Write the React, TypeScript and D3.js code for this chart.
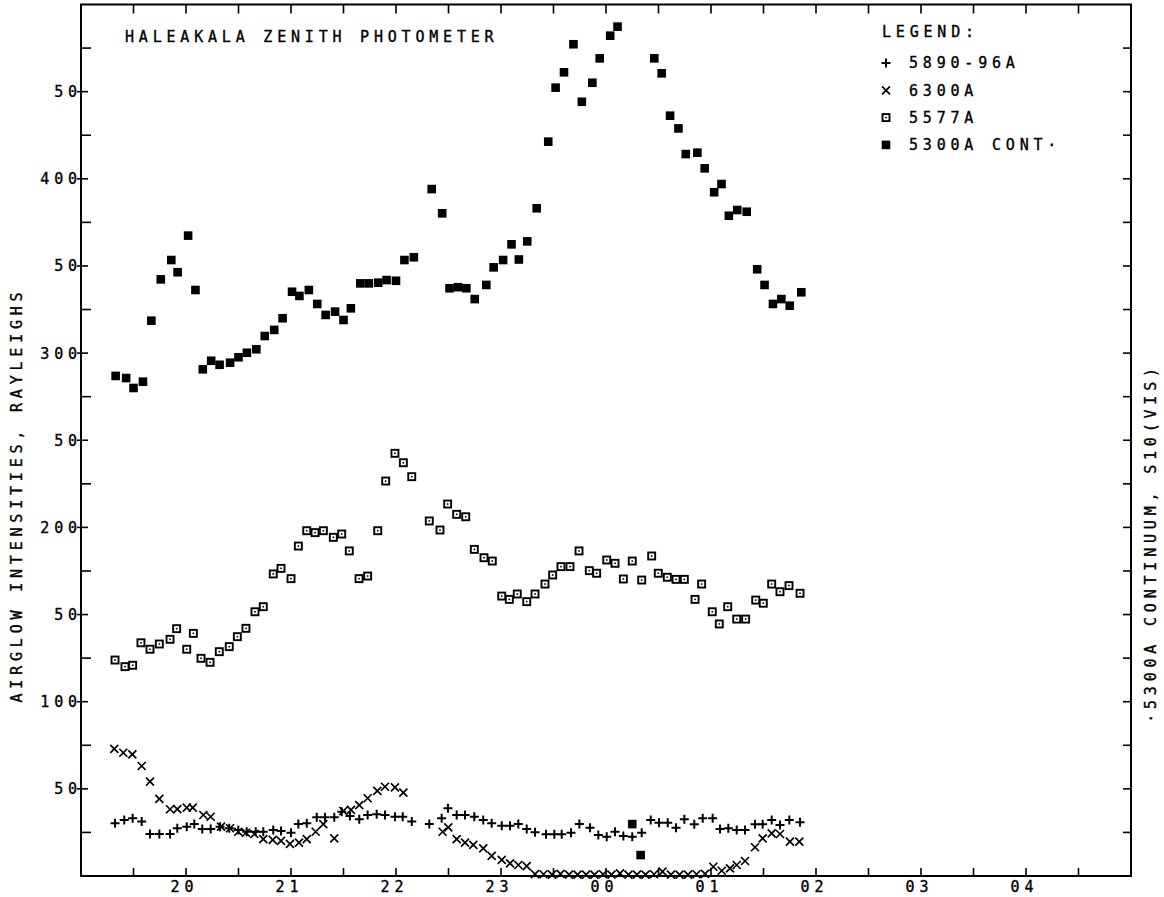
import React from "react";
import * as d3 from "d3";

// ---- data (hours after midnight of first day: 24 = 00h) ----
const naTimes = [19.324,19.412,19.492,19.578,19.657,19.746,19.848,19.917,20.007,20.079,20.155,20.235,20.324,20.412,20.498,20.578,20.664,20.736,20.831,20.905,21.0,21.07,21.15,21.245,21.324,21.412,21.483,21.562,21.65,21.73,21.816,21.895,21.99,22.064,22.15,22.317,22.435,22.495,22.578,22.657,22.746,22.831,22.911,23.007,23.086,23.165,23.245,23.324,23.429,23.508,23.578,23.667,23.746,23.848,23.927,24.007,24.086,24.165,24.25,24.34,24.426,24.505,24.588,24.667,24.746,24.841,24.921,25.016,25.086,25.165,25.245,25.324,25.419,25.492,25.578,25.657,25.746,25.848];
const naValues = [30.2,32.1,33.1,31.2,24.1,24.1,24.1,27.4,28.3,29.8,27.0,27.0,28.3,27.4,26.4,25.4,25.4,25.4,26.4,25.8,24.8,29.8,30.2,33.7,33.7,33.7,36.9,34.4,32.5,35.0,35.4,35.0,34.0,34.0,31.2,29.8,33.1,38.8,35.0,35.0,34.0,32.1,30.2,28.9,28.9,29.8,27.0,25.1,23.9,23.9,23.9,24.8,29.8,27.7,23.5,22.5,25.4,22.9,22.5,24.8,32.1,30.6,30.6,27.7,32.5,29.7,33.1,33.1,27.0,27.4,26.4,26.4,29.7,29.7,32.1,29.3,32.1,30.8];

const oiRedTimes = [19.317,19.403,19.489,19.578,19.657,19.746,19.848,19.917,20.007,20.064,20.165,20.235,20.333,20.419,20.498,20.571,20.651,20.736,20.826,20.905,20.99,21.076,21.15,21.235,21.308,21.412,21.498,21.571,21.65,21.73,21.822,21.895,21.99,22.07,22.444,22.498,22.578,22.657,22.736,22.831,22.911,23.007,23.086,23.165,23.245,23.324,23.405,23.486,23.567,23.648,23.729,23.81,23.89,23.971,24.052,24.133,24.214,24.295,24.376,24.457,24.538,24.619,24.7,24.781,24.862,24.943,25.022,25.102,25.181,25.245,25.324,25.419,25.492,25.578,25.657,25.752,25.841];
const oiRedValues = [72.9,70.7,69.8,63.1,54.1,44.2,38.3,38.4,39.2,39.2,35.0,34.0,28.3,27.4,25.4,24.8,24.1,21.1,20.7,20.1,18.4,19.1,21.1,25.4,29.8,21.6,37.3,37.9,40.7,44.6,48.8,51.2,50.9,47.8,25.4,27.9,21.1,19.1,17.8,15.9,11.5,9.2,7.3,6.3,5.7,1.1,1.0,0.8,1.2,0.8,0.8,0.8,0.8,1.0,0.8,1.5,0.8,0.8,0.8,1.0,2.5,0.8,0.8,0.8,1.0,1.2,5.3,3.0,4.4,6.3,8.6,16.5,21.6,24.5,24.1,19.7,19.7];

const oiGreenTimes = [19.324,19.419,19.492,19.571,19.657,19.746,19.848,19.911,20.007,20.07,20.143,20.229,20.317,20.412,20.489,20.571,20.657,20.736,20.831,20.905,21.0,21.07,21.15,21.229,21.308,21.403,21.483,21.555,21.648,21.73,21.826,21.902,21.99,22.07,22.15,22.317,22.419,22.492,22.578,22.664,22.746,22.838,22.917,23.007,23.079,23.155,23.245,23.324,23.419,23.492,23.571,23.657,23.743,23.841,23.911,24.007,24.086,24.165,24.25,24.34,24.435,24.498,24.584,24.667,24.746,24.848,24.911,25.012,25.079,25.159,25.245,25.33,25.426,25.498,25.578,25.657,25.743,25.848];
const oiGreenValues = [123.9,120.1,120.9,133.8,130.1,133.1,135.8,141.9,130.1,139.2,124.9,122.6,128.7,131.6,137.3,142.1,151.6,154.5,173.3,176.5,170.6,189.3,198.1,197.0,198.1,194.3,196.2,186.5,170.6,172.1,198.1,226.6,242.5,237.1,229.1,203.7,198.5,213.4,207.5,206.1,187.4,182.6,180.7,160.6,158.7,161.8,157.4,161.8,167.5,172.7,177.5,177.5,186.5,175.2,173.7,181.3,179.4,170.4,180.7,169.8,183.6,173.7,171.4,170.2,170.2,158.7,167.5,151.6,144.6,154.5,147.4,147.4,158.3,156.5,167.5,163.1,166.6,162.2];

const contTimes = [19.33,19.43,19.5,19.59,19.67,19.76,19.86,19.92,20.02,20.09,20.16,20.24,20.32,20.42,20.5,20.58,20.67,20.75,20.84,20.92,21.01,21.08,21.17,21.25,21.33,21.42,21.5,21.57,21.66,21.74,21.83,21.91,22.0,22.08,22.17,22.34,22.44,22.51,22.59,22.67,22.75,22.86,22.93,23.02,23.1,23.17,23.25,23.34,23.45,23.52,23.6,23.69,23.77,23.87,23.94,24.04,24.11,24.25,24.33,24.46,24.53,24.61,24.69,24.76,24.87,24.94,25.03,25.1,25.17,25.25,25.34,25.44,25.51,25.59,25.67,25.75,25.86];
const contValues = [286.9,285.7,280.0,283.6,318.6,342.3,353.4,346.4,367.4,336.2,290.7,295.6,293.3,294.5,297.6,300.2,302.2,309.8,313.3,320.0,335.2,332.8,336.2,328.2,321.9,323.8,319.0,325.7,340.0,340.0,340.4,341.9,341.5,353.4,355.0,394.1,380.2,337.2,337.8,337.2,331.0,339.1,349.2,353.4,362.4,353.7,364.1,383.1,421.3,452.3,461.1,477.2,444.2,455.1,469.1,482.1,487.3,29.8,12.0,469.1,460.5,436.2,428.9,414.2,415.0,406.0,392.3,397.0,378.8,382.1,381.1,348.1,339.1,328.2,331.0,327.2,334.9];

const yTickValues = [50, 100, 150, 200, 250, 300, 350, 400, 450];
const yTickLabels = ["50", "100", "50", "200", "50", "300", "50", "400", "50"];
const xTickHours = [20, 21, 22, 23, 24, 25, 26, 27, 28];
const xTickLabels = ["20", "21", "22", "23", "00", "01", "02", "03", "04"];

const titleText = "HALEAKALA ZENITH PHOTOMETER";
const leftTitle = "AIRGLOW INTENSITIES, RAYLEIGHS";
const rightTitle = "·5300A CONTINUUM, S10(VIS)";
const legendTitle = "LEGEND:";
const legendLabels = ["5890-96A", "6300A", "5577A", "5300A CONT·"];

const W = 1164, H = 897;
const FONT = "'DejaVu Sans Mono', 'Liberation Mono', monospace";
const LS = 4.8;

function Marker({ kind }: { kind: string }) {
  if (kind === "plus") return <path d="M-4.5,0H4.5M0,-4.5V4.5" stroke="#000" strokeWidth={2} fill="none" />;
  if (kind === "cross") return <path d="M-4,-4L4,4M-4,4L4,-4" stroke="#000" strokeWidth={1.7} fill="none" />;
  if (kind === "open")
    return (
      <g>
        <rect x={-3.5} y={-3.5} width={7} height={7} fill="#fff" stroke="#000" strokeWidth={1.9} />
        <rect x={-0.8} y={-0.8} width={1.6} height={1.6} fill="#000" />
      </g>
    );
  return <rect x={-4.3} y={-4.3} width={8.6} height={8.6} fill="#000" />;
}

export default function App() {
  const x = d3.scaleLinear().domain([19, 29]).range([81, 1131]);
  const y = d3.scaleLinear().domain([0, 500]).range([876, 4.5]);
  const halfHours = d3.range(19.5, 29, 0.5);
  const quarterVals = d3.range(25, 500, 25);

  const series = [
    { kind: "solid", t: contTimes, v: contValues },
    { kind: "open", t: oiGreenTimes, v: oiGreenValues },
    { kind: "cross", t: oiRedTimes, v: oiRedValues },
    { kind: "plus", t: naTimes, v: naValues },
  ];
  const legendKinds = ["plus", "cross", "open", "solid"];

  const [x0, x1] = x.range();
  const [yb, yt] = y.range();
  const textStyle = {
    fontFamily: FONT, fontSize: 15, letterSpacing: LS, fill: "#000",
    stroke: "#000", strokeWidth: 0.35,
  } as any;

  return (
    <svg width={W} height={H} style={{ position: "absolute", left: 0, top: 0, background: "#fff" }}>
      <rect x={0} y={0} width={W} height={H} fill="#fff" />
      {/* frame */}
      <rect x={x0} y={yt} width={x1 - x0} height={yb - yt} fill="none" stroke="#000" strokeWidth={2} />
      {/* left ticks */}
      {quarterVals.map((v) => {
        const major = v % 50 === 0;
        return <line key={"l" + v} x1={major ? x0 - 4 : x0} x2={x0 + (major ? 7 : 10)} y1={y(v)} y2={y(v)} stroke="#000" strokeWidth={1.6} />;
      })}
      {/* right ticks */}
      {quarterVals.map((v) => (
        <line key={"r" + v} x1={x1 - 8} x2={x1} y1={y(v)} y2={y(v)} stroke="#000" strokeWidth={1.6} />
      ))}
      {/* top & bottom ticks */}
      {halfHours.map((h) => (
        <g key={"t" + h}>
          <line x1={x(h)} x2={x(h)} y1={yt} y2={yt + 9} stroke="#000" strokeWidth={1.6} />
          <line x1={x(h)} x2={x(h)} y1={yb} y2={yb - 8} stroke="#000" strokeWidth={1.6} />
        </g>
      ))}
      {/* y tick labels */}
      {yTickValues.map((v, i) => (
        <text key={"yl" + v} x={x0 - 4 + LS} y={y(v)} dy="0.36em" textAnchor="end" style={textStyle}>
          {yTickLabels[i]}
        </text>
      ))}
      {/* x tick labels */}
      {xTickHours.map((h, i) => (
        <text key={"xl" + h} x={x(h) - 4 + LS / 2} y={892} textAnchor="middle" style={textStyle}>
          {xTickLabels[i]}
        </text>
      ))}
      {/* titles */}
      <text x={125} y={42} style={textStyle}>{titleText}</text>
      <text transform={`translate(22,${495}) rotate(-90)`} textAnchor="middle" style={textStyle}>{leftTitle}</text>
      <text transform={`translate(1156,${543}) rotate(-90)`} textAnchor="middle" style={textStyle}>{rightTitle}</text>
      {/* legend */}
      <text x={882} y={37} style={textStyle}>{legendTitle}</text>
      {legendLabels.map((lab, i) => {
        const cy = 63 + i * 27.3;
        return (
          <g key={lab}>
            <g transform={`translate(886,${cy})`}>
              <Marker kind={legendKinds[i]} />
            </g>
            <text x={909} y={cy} dy="0.36em" style={textStyle}>{lab}</text>
          </g>
        );
      })}
      {/* data */}
      {series.map((s) => (
        <g key={s.kind}>
          {s.t.map((t, i) => (
            <g key={i} transform={`translate(${x(t)},${y(s.v[i])})`}>
              <Marker kind={s.kind} />
            </g>
          ))}
        </g>
      ))}
    </svg>
  );
}
